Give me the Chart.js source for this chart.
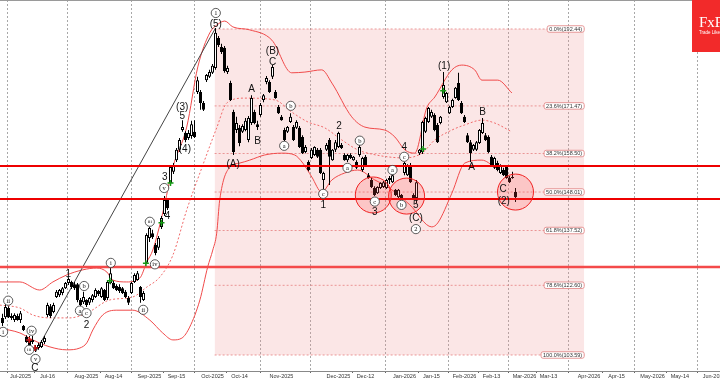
<!DOCTYPE html>
<html><head><meta charset="utf-8">
<script src="https://cdn.jsdelivr.net/npm/chart.js@4.4.1/dist/chart.umd.min.js"></script>
<style>html,body{margin:0;padding:0;background:#fff;overflow:hidden}</style>
</head><body>
<canvas id="c" width="720" height="380"></canvas>
<script>
// ---------- DATA ----------
const firstIdx = -6; // bar index of the first candle (index 0 = 1 Jul 2025)
const opens = [
113.7,113.9,116.4,114.2,113.1,114.2,
113.1,111.5,108.5,107.9,107.1,105.8,105.5,105.8,107.1,114.5,
116.9,115.3,119.4,119.9,120.5,121.8,123.2,123.5,122.9,122.9,
118.6,118.0,118.6,117.8,118.6,119.4,121.0,119.4,121.3,119.1,
123.2,123.2,122.4,122.1,121.8,120.8,119.1,120.5,123.5,124.0,
122.1,118.6,128.7,135.5,136.8,133.6,132.8,138.5,142.0,145.8,
150.5,153.5,156.7,159.5,164.9,164.1,162.7,163.3,164.4,175.3,
175.3,172.3,178.5,179.4,180.5,181.8,190.0,187.5,187.3,180.7,
177.7,169.8,164.9,165.5,164.4,164.9,162.2,166.8,169.8,166.5,
169.0,173.1,178.0,178.0,179.4,175.3,171.2,168.5,164.9,164.4,
167.1,165.7,165.5,165.5,163.0,158.9,156.2,157.3,158.1,159.5,
159.5,151.3,159.5,162.2,156.7,159.5,160.3,160.8,158.1,156.7,
158.1,156.7,156.2,158.1,154.0,157.6,152.6,151.3,149.1,147.7,
149.1,149.4,149.1,151.3,150.7,148.6,146.6,147.2,153.2,152.6,
155.4,147.2,146.4,158.6,158.9,164.4,167.1,168.5,169.0,166.3,
166.8,173.9,172.5,169.5,171.2,173.6,177.7,172.3,168.5,163.5,
161.6,159.5,159.5,161.4,164.1,163.5,163.0,157.6,154.6,155.9,
153.2,154.0,154.8,151.8,152.1,148.0];
const highs = [
114.8,117.5,116.9,115.0,115.0,114.8,
115.6,111.8,109.0,108.8,108.8,106.3,106.9,107.7,108.8,117.8,
117.5,117.8,121.3,121.6,122.1,123.5,124.8,123.8,123.5,123.2,
119.1,120.8,118.8,119.4,120.2,121.8,121.3,122.1,121.6,123.8,
127.3,123.8,122.9,122.9,122.1,121.3,119.7,123.5,125.9,126.5,
122.4,121.0,136.8,138.5,137.7,134.1,136.0,141.5,146.9,146.1,
155.4,155.9,160.0,162.7,167.6,164.6,164.9,167.4,167.6,179.4,
175.8,172.8,180.2,181.3,182.9,192.7,190.5,188.4,187.8,182.4,
178.3,170.4,168.5,166.3,166.5,168.2,168.7,174.4,170.4,167.4,
172.3,174.7,179.6,178.5,182.6,175.8,171.7,169.0,165.5,166.0,
169.5,166.3,167.6,166.0,163.5,160.8,156.7,160.0,160.5,160.0,
160.0,153.5,161.4,162.7,159.7,162.2,164.4,161.4,158.6,158.4,
158.6,157.8,156.7,160.8,157.6,158.1,153.2,151.8,149.6,149.6,
150.7,151.0,151.6,152.4,152.9,148.8,148.8,147.5,156.2,155.6,
155.9,147.7,151.3,159.7,167.4,168.5,171.2,170.4,169.5,166.8,
168.7,180.7,175.3,171.5,173.4,176.6,180.5,172.8,169.0,164.1,
162.2,161.1,161.9,165.2,168.2,164.1,163.5,158.1,157.6,156.5,
155.6,154.6,155.4,152.4,153.5,149.1];
const lows = [
111.5,113.4,113.7,113.1,112.6,112.9,
112.3,110.1,106.9,105.8,106.6,104.4,105.0,105.5,106.6,113.9,
113.7,115.0,119.1,119.4,119.9,121.6,122.7,121.6,121.3,118.0,
116.7,117.5,116.7,117.2,118.0,119.1,119.7,119.1,118.3,118.6,
122.9,121.6,121.0,120.5,120.2,119.1,117.2,120.2,123.2,123.8,
117.8,118.3,128.4,134.4,135.2,130.8,132.2,137.9,141.5,143.1,
149.9,152.9,156.2,158.9,164.4,161.6,162.2,162.5,162.7,174.7,
170.4,170.1,178.0,179.1,180.2,181.3,187.5,185.6,180.5,180.2,
172.8,158.1,164.1,160.5,164.1,164.6,161.6,166.3,166.5,164.9,
168.5,172.5,177.4,175.0,178.8,173.4,169.3,167.4,161.9,164.1,
166.8,161.9,165.2,160.0,158.4,158.6,153.7,157.0,157.8,157.3,
152.9,148.6,159.2,149.9,156.5,158.9,160.0,159.7,156.5,156.2,
157.0,156.5,154.3,157.6,153.5,155.1,151.6,149.1,146.9,147.5,
148.8,149.1,148.8,150.2,150.5,146.9,146.4,146.1,152.6,152.4,
150.5,146.1,145.0,158.1,158.4,164.1,166.8,168.2,164.6,161.4,
166.5,173.4,172.3,169.3,170.9,173.4,172.8,169.3,166.8,161.4,
156.2,159.2,159.2,161.1,163.8,161.9,158.6,155.1,154.3,153.7,
152.9,152.4,151.6,150.5,151.6,145.3];
const closes = [
112.3,116.7,113.9,113.7,114.5,113.1,
115.0,110.4,107.1,106.3,107.7,105.0,106.3,107.1,108.2,117.2,
114.2,117.2,120.8,121.3,121.8,123.2,124.3,122.1,121.8,118.6,
117.2,119.4,117.2,119.1,119.9,121.3,120.2,121.8,118.6,123.5,
125.9,121.8,121.3,121.0,120.5,119.4,117.8,123.2,125.4,125.9,
119.4,120.5,136.3,138.2,135.7,131.4,135.5,140.9,145.8,143.6,
154.8,155.4,159.5,162.2,165.7,162.2,164.1,166.5,163.0,178.5,
172.3,170.4,179.9,180.7,182.4,191.4,188.1,186.2,181.0,181.8,
173.1,158.9,166.8,161.4,166.0,167.4,168.2,173.6,166.8,165.7,
171.7,174.4,179.1,175.3,182.1,173.6,169.5,167.6,162.2,165.7,
168.5,162.2,167.1,160.3,158.6,160.3,154.0,159.5,160.3,157.6,
153.2,153.2,160.8,157.6,159.5,161.6,164.1,160.0,156.7,158.1,
157.3,157.6,154.6,160.3,157.3,155.4,151.8,149.4,147.2,149.4,
150.5,150.7,151.3,151.8,152.6,147.2,148.6,146.4,155.9,155.4,
150.7,146.4,150.7,159.5,167.1,168.2,170.9,169.8,164.9,161.6,
168.5,177.2,175.0,171.2,173.1,176.4,173.1,169.5,167.1,161.6,
158.6,160.8,161.6,164.9,166.8,162.2,158.9,155.4,157.3,154.0,
155.4,152.6,151.8,150.7,151.8,146.6];

// Bollinger bands (read at turning points)
const bbUpperIdx = [-6.9,-0.2,6.4,10.8,15.4,20.8,25.4,28.8,30.8,35.4,39.8,42.1,44.1,47.4,50.8,55.4,59.1,63.1,65.4,68.1,70.8,76.4,83.8,90.4,94.8,100.4,103.8,110.4,114.8,121.4,124.8,128.1,131.4,135.4,138.1,143.8,147.1,151.4,153.8,159.1,163.8];
const bbUpperVal = [123.5,123.5,121.3,123.5,125.4,126.8,127.3,126.2,124.0,123.5,124.6,128.9,132.2,142.3,154.8,165.7,182.1,191.4,193.5,194.6,193.0,192.2,189.4,180.5,180.7,181.3,177.7,168.5,165.7,164.9,163.0,159.5,158.6,170.9,173.9,181.3,182.6,181.3,178.5,178.5,175.0];
const bbMidIdx = [-6.9,-0.2,4.1,9.8,16.4,22.1,29.8,37.4,42.1,46.4,50.8,55.4,60.8,65.4,68.8,74.8,84.8,90.4,95.8,101.4,107.1,112.4,115.8,122.4,128.1,133.8,138.1,143.8,148.1,153.8,158.1,163.8];
const bbMidVal = [117.2,116.4,114.5,113.7,113.7,115.0,118.6,119.4,122.1,124.8,130.8,143.1,155.4,165.5,172.3,173.6,173.1,169.8,167.1,165.5,162.2,159.5,158.6,157.6,157.3,158.6,162.2,164.9,166.3,167.6,166.8,164.4];
const bbLowIdx = [-6.9,-0.2,4.1,9.8,15.4,19.8,22.1,24.1,27.4,32.1,37.4,43.1,47.4,50.8,53.8,56.4,59.8,62.4,64.1,65.4,66.4,69.8,73.1,76.4,81.4,87.1,91.4,94.1,97.1,100.4,103.8,108.1,112.4,118.1,122.4,129.8,137.1,139.1,143.8,148.1,153.8,158.1,162.4];
const bbLowVal = [110.9,109.6,107.7,105.8,105.0,105.5,106.9,110.4,114.5,115.8,115.8,113.1,109.6,107.7,108.2,111.2,118.6,127.6,132.2,136.8,145.8,154.8,155.9,156.7,158.1,158.6,158.1,155.9,152.1,148.0,151.3,153.2,154.0,151.3,149.4,144.5,138.5,139.6,147.7,155.9,156.7,154.8,152.6];

// x-axis ticks
const tickIdx = [0,9,22,31,43,52,64,73,87,106,115,128,137,148,157,168,176,189.5,198.7,210.7,219.8,231.2];
const tickLabels = ['Jul-2025','Jul-16','Aug-2025','Aug-14','Sep-2025','Sep-15','Oct-2025','Oct-14','Nov-2025','Dec-2025','Dec-12','Jan-2026','Jan-15','Feb-2026','Feb-13','Mar-2026','Mar-13','Apr-2026','Apr-15','May-2026','May-14','Jun-2026'];

// Fibonacci retracement
const fibPct = ['0.0','23.6','38.2','50.0','61.8','78.6','100.0'];
const fibVal = [192.44,171.47,158.50,148.01,137.52,122.60,103.59];
const fibStartIdx = 64.7, fibEndIdx = 187.9;

// horizontal support / resistance levels
const levels = [155.1,146.1,127.6];

// trend line (from C low to wave (5) top)
const trendIdx = [5,65];
const trendVal = [104.4,192.7];

// highlighted zones
const zoneIdx = [117.6,128.7,165.0];
const zoneVal = [147.2,146.9,148.0];

// wave labels
const waveText = ['1','2','C','3','4','5','(3)','(4)','(5)','(A)','A','B','C','(B)','1','2','3','4','5','(C)','(1)','A','B','C','(2)'];
const waveIdx  = [15.9,22.0,4.8,48.1,49.0,53.9,53.9,54.8,65.1,70.9,77.0,79.0,84.0,84.0,100.9,106.2,118.1,127.9,131.8,131.8,141.2,150.4,154.0,160.9,161.1];
const waveVal  = [125.7,111.8,100.0,152.1,141.5,168.7,171.2,159.7,193.8,155.6,176.1,161.9,183.4,186.4,144.5,166.0,142.4,160.3,144.5,140.9,182.3,154.8,169.8,148.8,145.4];
const circText = ['i','ii','iii','iv','v','a','b','c','i','ii','iii','iv','v','1','a','b','c','a','b','c','a','b','c','2'];
const circIdx  = [-5.8,-4.1,2.9,3.7,5.0,19.8,21.2,22.0,30.1,40.9,43.1,44.8,47.9,65.1,87.9,90.1,100.9,109.0,113.1,118.1,124.0,127.0,127.9,131.8];
const circVal  = [109.9,118.4,105.0,110.2,102.5,115.7,122.4,115.0,128.7,115.9,139.9,128.3,149.1,196.8,160.6,171.5,147.5,154.6,162.0,145.4,154.0,144.5,157.6,137.9];

// signal arrows
const upIdx = [29.8,41.8,47.0,50.0,134.2,140.9];
const upVal = [123.8,128.6,139.6,150.5,159.7,175.6];
const dnIdx = [2.9,4.8];
const dnVal = [107.7,105.5];

// ---------- BUILD ----------
const n = Math.min(opens.length, highs.length, lows.length, closes.length);
const wick = [], body = [], bodyColor = [];
for (let i = 0; i < n; i++) {
  const x = firstIdx + i;
  wick.push({x, y: [lows[i], highs[i]]});
  body.push({x, y: [Math.min(opens[i], closes[i]), Math.max(opens[i], closes[i])]});
  bodyColor.push(closes[i] >= opens[i] ? '#ffffff' : '#000000');
}
const pts = (xs, ys) => xs.map((x, i) => ({x, y: ys[i]}));
const X_MIN = -20.5/3, X_MAX = (720-20.5)/3;

const datasets = [];
datasets.push({type:'line', data:[{x:fibStartIdx,y:fibVal[0]},{x:fibEndIdx,y:fibVal[0]}],
  fill:{value: fibVal[fibVal.length-1]}, backgroundColor:'rgba(238,150,150,0.24)', borderWidth:0, pointRadius:0, order:30});
fibVal.forEach(v => datasets.push({type:'line', data:[{x:fibStartIdx,y:v},{x:fibEndIdx,y:v}],
  borderColor:'rgba(226,110,110,0.85)', borderWidth:0.8, borderDash:[2,2], pointRadius:0, fill:false, order:29}));
const bandStyle = {type:'line', pointRadius:0, fill:false, cubicInterpolationMode:'monotone', order:20};
datasets.push({...bandStyle, data:pts(bbUpperIdx,bbUpperVal), borderColor:'#f04a4a', borderWidth:1});
datasets.push({...bandStyle, data:pts(bbMidIdx,bbMidVal), borderColor:'#f06a6a', borderWidth:1, borderDash:[2,2]});
datasets.push({...bandStyle, data:pts(bbLowIdx,bbLowVal), borderColor:'#f04a4a', borderWidth:1});
datasets.push({type:'line', data:pts(trendIdx,trendVal), borderColor:'#444', borderWidth:1, pointRadius:0, fill:false, order:19});
datasets.push({type:'bar', data:wick, backgroundColor:'#000', borderWidth:0, grouped:false, maxBarThickness:1, inflateAmount:0, order:12});
datasets.push({type:'bar', data:body, backgroundColor:bodyColor, borderColor:'#000', borderWidth:1, borderSkipped:false,
  grouped:false, barPercentage:1, categoryPercentage:1, inflateAmount:0, minBarLength:1, order:11});
levels.forEach((v,i) => datasets.push({type:'line', data:[{x:X_MIN-1,y:v},{x:X_MAX+1,y:v}],
  borderColor: i===2 ? '#f44a4a' : '#ee0000', borderWidth: i===2 ? 2.5 : 2, pointRadius:0, fill:false, order:6}));
datasets.push({type:'bubble', data:zoneIdx.map((x,i)=>({x, y:zoneVal[i], r:18})),
  backgroundColor:'rgba(255,70,70,0.2)', borderColor:'#f02020', borderWidth:1, order:5});
datasets.push({type:'scatter', data:pts(upIdx,upVal), pointStyle:'cross', pointRadius:3, borderColor:'#159a15', borderWidth:1.5, order:4});
datasets.push({type:'scatter', data:pts(dnIdx,dnVal), pointStyle:'cross', pointRadius:3, borderColor:'#d01818', borderWidth:1.5, order:4});

const isMonth = (i) => /-20\d\d$/.test(tickLabels[i] || '');

const annot = {
  id:'annot',
  afterDatasetsDraw(chart){
    const {ctx, scales:{x, y}} = chart;
    ctx.save();
    ctx.font = '5.5px "Liberation Sans", Arial, sans-serif';
    ctx.textBaseline = 'middle';
    ctx.textAlign = 'left';
    fibVal.forEach((v,i) => {
      const t = fibPct[i] + '%(' + v.toFixed(2) + ')';
      const w = ctx.measureText(t).width;
      const xr = x.getPixelForValue(fibEndIdx);
      const yy = y.getPixelForValue(v);
      const bw = w + 4, bh = 6.5, bx = xr - bw, by = yy - bh/2;
      ctx.fillStyle = '#fff'; ctx.strokeStyle = '#e07f7f'; ctx.lineWidth = 0.8;
      ctx.beginPath(); ctx.roundRect(bx, by, bw, bh, 2); ctx.fill(); ctx.stroke();
      ctx.fillStyle = '#333'; ctx.fillText(t, bx + 2, yy + 0.3);
    });
    circText.forEach((t,i) => {
      const cx = x.getPixelForValue(circIdx[i]), cy = y.getPixelForValue(circVal[i]);
      ctx.beginPath(); ctx.arc(cx, cy, 4.6, 0, Math.PI*2);
      ctx.fillStyle = '#fff'; ctx.fill();
      ctx.strokeStyle = '#333'; ctx.lineWidth = 0.8; ctx.stroke();
      ctx.fillStyle = '#111'; ctx.textAlign = 'center';
      ctx.font = (t.length > 2 ? '5px' : '6.5px') + ' "Liberation Serif", serif';
      ctx.fillText(t, cx, cy + 0.3);
    });
    ctx.font = '10px "Liberation Sans", Arial, sans-serif';
    ctx.fillStyle = '#111'; ctx.textAlign = 'center'; ctx.textBaseline = 'middle';
    waveText.forEach((t,i) => ctx.fillText(t, x.getPixelForValue(waveIdx[i]), y.getPixelForValue(waveVal[i])));
    ctx.restore();
  },
  afterDraw(chart){
    const ctx = chart.ctx;
    ctx.save();
    ctx.strokeStyle = '#9a9a9a'; ctx.lineWidth = 1;
    ctx.beginPath(); ctx.moveTo(0, 0.5); ctx.lineTo(720, 0.5); ctx.stroke();
    ctx.fillStyle = '#f22a2a'; ctx.fillRect(692, 0, 28, 52);
    ctx.fillStyle = '#fff'; ctx.textAlign = 'left'; ctx.textBaseline = 'alphabetic';
    ctx.font = '15px "Liberation Serif", serif';
    ctx.fillText('FxPro', 699, 27);
    ctx.font = '4.5px "Liberation Sans", sans-serif';
    ctx.fillText('Trade Like a Pro', 699, 34);
    ctx.restore();
  }
};

new Chart(document.getElementById('c'), {
  type:'bar',
  data:{datasets},
  plugins:[annot],
  options:{
    responsive:false, animation:false, devicePixelRatio:1,
    layout:{padding:0, autoPadding:false},
    plugins:{legend:{display:false}, tooltip:{enabled:false}},
    events:[],
    scales:{
      x:{type:'linear', min:X_MIN, max:X_MAX, offset:false, bounds:'data',
        afterBuildTicks:(s)=>{ s.ticks = tickIdx.map(v=>({value:v})); },
        afterFit:(s)=>{ s.height = 9; s.paddingLeft = 0; s.paddingRight = 0; },
        ticks:{autoSkip:false, maxRotation:0, minRotation:0, padding:0,
          font:{size:5.5, family:'"Liberation Sans", Arial, sans-serif'}, color:'#333',
          callback:(v,i)=>tickLabels[i]},
        grid:{color:(c)=> isMonth(c.index) ? '#a8a8a8' : 'rgba(0,0,0,0)', lineWidth:1,
          tickColor:'#666', tickLength:2, drawTicks:true},
        border:{display:true, color:'#888', width:1, dash:[2,2]}
      },
      y:{type:'linear', display:false, min:99.23, max:200.34}
    }
  }
});
</script>
</body></html>
